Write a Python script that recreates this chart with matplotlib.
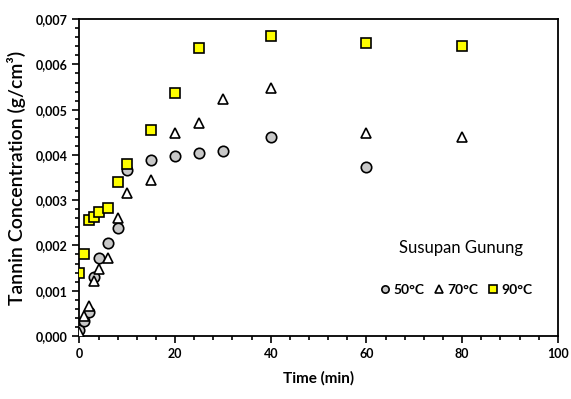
import matplotlib
matplotlib.use("Agg")
import matplotlib.pyplot as plt
from matplotlib.ticker import MultipleLocator, FuncFormatter

plt.rcParams['font.family'] = ['Lato', 'DejaVu Sans']

# data (time in min, tannin in g/cm3)
t50 = [0, 1, 2, 3, 4, 6, 8, 10, 15, 20, 25, 30, 40, 60]
c50 = [0.00013, 0.00034, 0.00054, 0.00131, 0.00173, 0.00205, 0.00238, 0.00367,
       0.00389, 0.00398, 0.00405, 0.00409, 0.00440, 0.00373]

t70 = [0, 1, 2, 3, 4, 6, 8, 10, 15, 20, 25, 30, 40, 60, 80]
c70 = [0.00009, 0.00045, 0.00066, 0.00121, 0.00147, 0.00173, 0.00260, 0.00315,
       0.00344, 0.00449, 0.00471, 0.00523, 0.00548, 0.00449, 0.00440]

t90 = [0, 1, 2, 3, 4, 6, 8, 10, 15, 20, 25, 40, 60, 80]
c90 = [0.00140, 0.00181, 0.00256, 0.00262, 0.00273, 0.00282, 0.00341, 0.00381,
       0.00455, 0.00536, 0.00636, 0.00663, 0.00648, 0.00640]

fig = plt.figure(figsize=(5.71, 3.99), dpi=100)
ax = fig.add_axes([0.139, 0.158, 0.838, 0.794])

ax.plot(t50, c50, 'o', ms=7.5, mfc='#c8c8c8', mec='black', mew=1.2, label='50°C', zorder=3)
ax.plot(t70, c70, '^', ms=7.5, mfc='white', mec='black', mew=1.2, label='70°C', zorder=3)
ax.plot(t90, c90, 's', ms=7.5, mfc='#ffff00', mec='black', mew=1.2, label='90°C', zorder=4)

ax.set_xlim(0, 100)
ax.set_ylim(0, 0.007)
ax.xaxis.set_major_locator(MultipleLocator(20))
ax.xaxis.set_minor_locator(MultipleLocator(4))
ax.yaxis.set_major_locator(MultipleLocator(0.001))
ax.yaxis.set_minor_locator(MultipleLocator(0.0002))
ax.yaxis.set_major_formatter(FuncFormatter(lambda v, p: ('%.3f' % v).replace('.', ',')))

ax.tick_params(which='both', direction='out', top=False, right=False, width=1.2)
ax.tick_params(which='major', length=5, labelsize=9)
ax.tick_params(which='minor', length=3)
for lbl in ax.get_xticklabels() + ax.get_yticklabels():
    lbl.set_fontweight('bold')
for s in ax.spines.values():
    s.set_linewidth(1.3)

ax.set_xlabel('Time (min)', fontsize=11, fontweight='bold', labelpad=8)
ax.set_ylabel('Tannin Concentration (g/cm³)', fontsize=14, fontweight='semibold', labelpad=7)

ax.text(0.798, 0.278, 'Susupan Gunung', transform=ax.transAxes, ha='center',
        va='center', fontsize=12)
ax.legend(loc='center', bbox_to_anchor=(0.787, 0.145), ncol=3, frameon=False,
          markerscale=0.7, handlelength=0.7, handletextpad=0.25,
          columnspacing=0.7, prop={'weight': 'bold', 'size': 10})

fig.savefig('out.png', dpi=100)
